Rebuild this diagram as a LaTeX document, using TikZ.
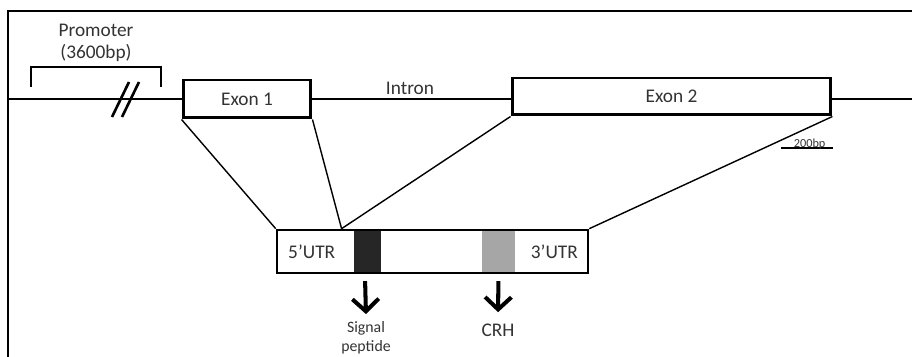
\documentclass[tikz,border=0pt]{standalone}
\usepackage{fontspec}
\setmainfont{Carlito}
\usetikzlibrary{positioning,arrows.meta,calc}
\definecolor{sigcol}{HTML}{262626}
\definecolor{crhcol}{HTML}{A6A6A6}
\tikzset{
  exonbox/.style={draw, line width=1.7pt, fill=white, inner sep=0pt, font=\fontsize{11}{13}\selectfont, text=black!80},
  mrnabox/.style={draw, line width=1.5pt, fill=white, inner sep=0pt},
  block/.style={inner sep=0pt, minimum height=0.82cm},
  lbl/.style={font=\fontsize{11}{12.5}\selectfont, text=black!80, align=center},
  link/.style={line width=0.8pt},
  bigarrow/.style={line width=2.3pt, -{Straight Barb[length=7pt,width=15pt]}}
}
\begin{document}
\begin{tikzpicture}[x=0.02cm, y=-0.02cm]
  \useasboundingbox (0,0) rectangle (912,357);
  % frame
  \draw[line width=1.1pt] (8,357) -- (8,11) -- (912,11);

  % gene line
  \draw[line width=1.6pt] (9,99) -- (912,99);
  \draw[line width=1.5pt] (112,117) -- (129,82);
  \draw[line width=1.5pt] (122,117) -- (139,82);
  \draw[line width=0.6pt] (31,87) -- (31,67) -- (161,67) -- (161,87);
  \node[lbl] (prom) at (96,43) {Promoter\\(3600bp)};

  % nodes
  \node[exonbox, minimum width=2.56cm, minimum height=0.76cm] (ex1) at (247,99) {Exon 1};
  \node[exonbox, minimum width=6.38cm, minimum height=0.74cm] (ex2) at (671.5,96.5) {Exon 2};
  \node[lbl] (intron) at (410,88) {Intron};
  \node[mrnabox, minimum width=6.22cm, minimum height=0.86cm] (mrna) at (432.5,251.5) {};
  \node[block, fill=sigcol, minimum width=0.54cm] (sp) at (367.5,251.5) {};
  \node[block, fill=crhcol, minimum width=0.66cm] (crh) at (498.5,251.5) {};
  \node[lbl, anchor=west] (utr5) at (282,251.5) {5’UTR};
  \node[lbl, anchor=east] (utr3) at (584,251.5) {3’UTR};
  \node[lbl, font=\fontsize{9}{10.5}\selectfont] (sptxt) at (366,338) {Signal\\peptide};
  \node[lbl] (crhtxt) at (498,330) {CRH};

  % scale bar
  \coordinate (sb1) at (781,148);
  \coordinate (sb2) at (833,148);
  \draw[line width=0.6pt] (sb1) -- (sb2);
  \node[lbl, font=\fontsize{7}{8}\selectfont, inner sep=0pt, above=-1pt of $(sb1)!0.55!(sb2)$] (sbtxt) {200bp};

  % edges
  \draw[link] (ex1.south west) -- (mrna.north west);
  \draw[link] (ex1.south east) -- ($(mrna.north west)!0.21!(mrna.north east)$) coordinate (j);
  \draw[link] (ex2.south west) -- (j);
  \draw[link] (ex2.south east) -- (mrna.north east);
  \draw[bigarrow, shorten <=5pt, shorten >=1pt] ([xshift=-1.5pt]sp.south) -- (sptxt.north);
  \draw[bigarrow, shorten <=5pt, shorten >=3pt] (crh.south) -- (crhtxt.north);
\end{tikzpicture}
\end{document}
